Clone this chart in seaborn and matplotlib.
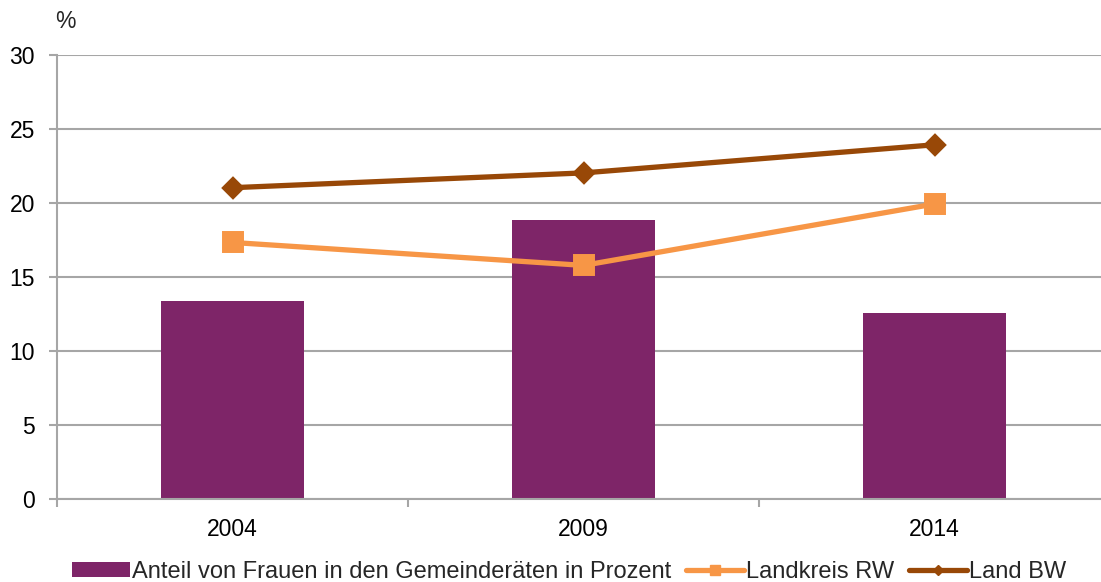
import matplotlib
matplotlib.use("Agg")
import matplotlib.pyplot as plt
import seaborn as sns
import pandas as pd
from matplotlib.lines import Line2D
from matplotlib.patches import Patch
from matplotlib.ticker import FixedLocator

years = ["2004", "2009", "2014"]
frauen_anteil = [13.35, 18.8, 12.55]
landkreis_rw = [17.3, 15.75, 19.9]
land_bw = [21.0, 22.0, 23.9]

bar_label = "Anteil von Frauen in den Gemeinderäten in Prozent"
rw_label = "Landkreis RW"
bw_label = "Land BW"

bar_color = "#7E2568"
rw_color = "#F79646"
bw_color = "#984807"
grid_color = "#A6A6A6"

sns.set_theme(style="white")
plt.rcParams["font.family"] = ["Liberation Sans", "DejaVu Sans"]

fig = plt.figure(figsize=(11.01, 5.82), dpi=100)
ax = fig.add_axes([57 / 1101, 83.5 / 582, 1053 / 1101, 444 / 582])

df = pd.DataFrame({"year": years, "frauen": frauen_anteil, "rw": landkreis_rw, "bw": land_bw})

sns.barplot(data=df, x="year", y="frauen", color=bar_color, saturation=1, width=0.405, ax=ax, zorder=2)
for p in ax.patches:
    p.set_edgecolor("none")

sns.pointplot(data=df, x="year", y="rw", color=rw_color, markers="s", markersize=13,
              linewidth=3.8, ax=ax, zorder=4)
sns.pointplot(data=df, x="year", y="bw", color=bw_color, markers="D", markersize=9.5,
              linewidth=3.8, ax=ax, zorder=4)

ax.set_xlim(-0.5, 2.5)
ax.set_ylim(0, 30)
ax.set_yticks([0, 5, 10, 15, 20, 25, 30])
ax.yaxis.grid(True, color=grid_color, linewidth=1.5, zorder=0)
ax.set_axisbelow(True)
ax.set_xlabel("")
ax.set_ylabel("")

for s in ["top", "right"]:
    ax.spines[s].set_visible(False)
for s in ["left", "bottom"]:
    ax.spines[s].set_color(grid_color)
    ax.spines[s].set_linewidth(1.5)

ax.tick_params(axis="y", which="major", left=True, length=6, width=1.5, color=grid_color,
               labelsize=16.5, labelcolor="black", pad=10)
ax.tick_params(axis="x", which="major", bottom=False, length=0, labelsize=16.5, labelcolor="black", pad=14)
ax.xaxis.set_minor_locator(FixedLocator([-0.5, 0.5, 1.5]))
ax.tick_params(axis="x", which="minor", bottom=True, length=6, width=1.5, color=grid_color)

fig.text(55 / 1101, 1 - 22 / 582, "%", fontsize=16.5, va="center", ha="left")

handles = [
    Patch(facecolor=bar_color, edgecolor="none"),
    Line2D([], [], color=rw_color, marker="s", markersize=7.5, linewidth=3.8),
    Line2D([], [], color=bw_color, marker="D", markersize=5.5, linewidth=3.8),
]
fig.legend(handles, [bar_label, rw_label, bw_label], loc="center", bbox_to_anchor=(0.517, 1 - 572 / 582),
           ncol=3, frameon=False, fontsize=17, handlelength=2.45, handletextpad=0.1, columnspacing=0.62,
           borderaxespad=0, handleheight=0.6)

fig.savefig("out.png", dpi=100)
